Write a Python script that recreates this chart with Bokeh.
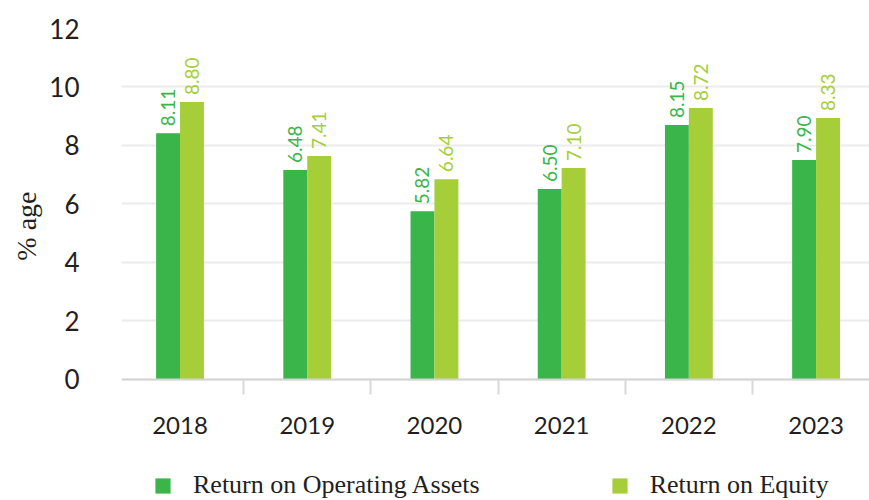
import numpy as np
from bokeh.plotting import figure
from bokeh.models import (ColumnDataSource, Range1d, FixedTicker, Legend, LegendItem, Title)
from bokeh.transform import dodge
from bokeh.core.properties import value
from bokeh.embed import file_html
from bokeh.resources import INLINE

years = ["2018", "2019", "2020", "2021", "2022", "2023"]
# bar heights as drawn in the reference
roa_bar = [8.42, 7.16, 5.75, 6.51, 8.70, 7.50]
roe_bar = [9.49, 7.64, 6.85, 7.23, 9.28, 8.94]
# data labels as printed in the reference
roa_labels = ["8.11", "6.48", "5.82", "6.50", "8.15", "7.90"]
roe_labels = ["8.80", "7.41", "6.64", "7.10", "8.72", "8.33"]
y_ticks = [0, 2, 4, 6, 8, 10, 12]

DARK = "#3ab54a"
LIGHT = "#a5ce39"
TXT = "#231f20"
SANS = "Lato"
SERIF = "Liberation Serif"

xs = list(range(len(years)))
src = ColumnDataSource(dict(x=xs, roa=roa_bar, roe=roe_bar,
                            roa_lab=roa_labels, roe_lab=roe_labels))

p = figure(width=869, height=500, output_backend="svg", toolbar_location=None,
           x_range=Range1d(-0.46, 5.42), y_range=Range1d(-4.137, 12),
           min_border_left=121, min_border_right=0, min_border_top=28,
           min_border_bottom=0)
p.outline_line_color = None
p.background_fill_color = "white"

bw = 0.188
r1 = p.vbar(x=dodge("x", -bw / 2, range=p.x_range), top="roa", width=bw,
            source=src, fill_color=DARK, line_color=None)
r2 = p.vbar(x=dodge("x", bw / 2, range=p.x_range), top="roe", width=bw,
            source=src, fill_color=LIGHT, line_color=None)

p.text(x=dodge("x", -bw / 2, range=p.x_range), y="roa", text="roa_lab", source=src,
       angle=np.pi / 2, text_align="left", text_baseline="middle",
       y_offset=-7, text_font=value(SANS), text_font_size="19px", text_color=DARK)
p.text(x=dodge("x", bw / 2, range=p.x_range), y="roe", text="roe_lab", source=src,
       angle=np.pi / 2, text_align="left", text_baseline="middle",
       y_offset=-7, text_font=value(SANS), text_font_size="19px", text_color=LIGHT)

# x axis, pinned at y = 0 inside the frame
xa = p.xaxis[0]
xa.fixed_location = 0
xa.ticker = FixedTicker(ticks=xs, minor_ticks=[i + 0.5 for i in xs[:-1]])
xa.major_label_overrides = {i: y for i, y in enumerate(years)}
xa.major_tick_line_color = None
xa.minor_tick_line_color = "#d9d9d9"
xa.minor_tick_line_width = 2
xa.minor_tick_out = 15
xa.minor_tick_in = 0
xa.axis_line_color = "#d4d4d4"
xa.axis_line_width = 2
xa.major_label_text_font = SANS
xa.major_label_text_font_size = "24px"
xa.major_label_text_color = TXT
xa.major_label_standoff = 23

# y axis
ya = p.yaxis[0]
ya.ticker = FixedTicker(ticks=y_ticks)
ya.axis_line_color = None
ya.major_tick_line_color = None
ya.minor_tick_line_color = None
ya.major_label_text_font = SANS
ya.major_label_text_font_size = "26px"
ya.major_label_text_color = TXT
ya.major_label_standoff = 36

ytitle = Title(text="% age", align="right", offset=163, standoff=10,
               text_font=SERIF, text_font_size="28px", text_font_style="normal",
               text_color=TXT)
p.add_layout(ytitle, "left")

p.xgrid.grid_line_color = None
p.ygrid.grid_line_color = "#ebebeb"
p.ygrid.grid_line_width = 2

legend = Legend(items=[LegendItem(label="Return on Operating Assets", renderers=[r1]),
                       LegendItem(label="Return on Equity", renderers=[r2])],
                location=(32, 0), orientation="horizontal",
                glyph_width=19, glyph_height=19, label_standoff=21, spacing=130,
                padding=0, margin=0, border_line_color=None,
                background_fill_alpha=0, label_text_font=SERIF,
                label_text_font_size="26px", label_text_color=TXT)
p.add_layout(legend, "center")

open("out.html", "w").write(file_html(p, INLINE))
